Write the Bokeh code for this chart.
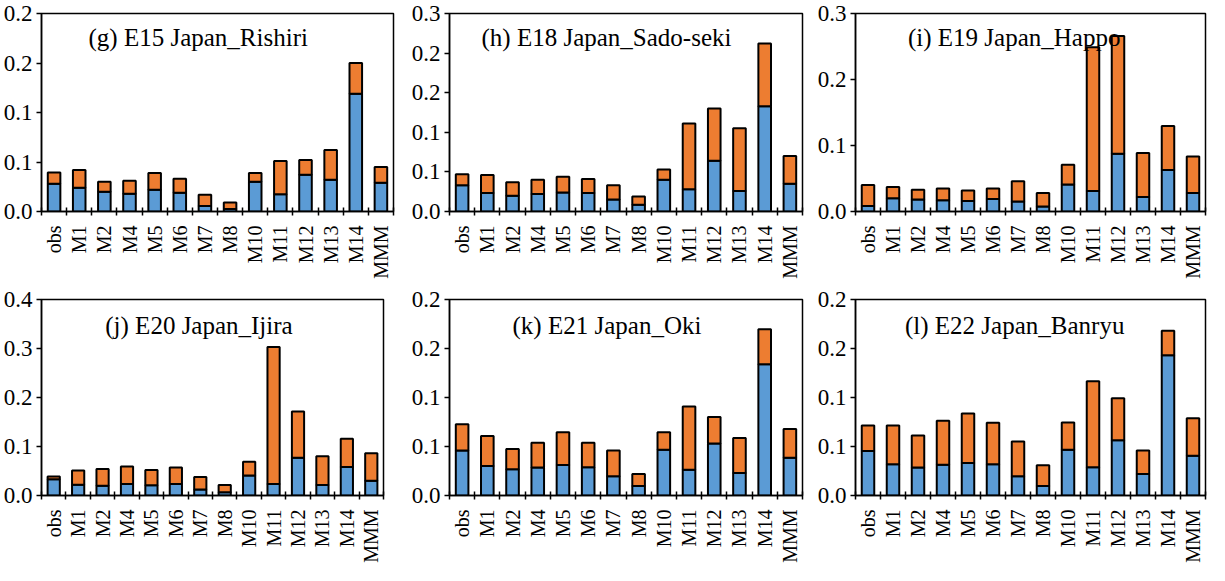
import numpy as np
from bokeh.plotting import figure
from bokeh.layouts import row, column
from bokeh.models import (Range1d, FixedTicker, CustomJSTickFormatter, Label,
                          ColumnDataSource)
from bokeh.embed import file_html
from bokeh.resources import INLINE

categories = ["obs", "M1", "M2", "M4", "M5", "M6", "M7", "M8",
              "M10", "M11", "M12", "M13", "M14", "MMM"]

titles = ["(g) E15 Japan_Rishiri", "(h) E18 Japan_Sado-seki", "(i) E19 Japan_Happo",
          "(j) E20 Japan_Ijira", "(k) E21 Japan_Oki", "(l) E22 Japan_Banryu"]

g_blue = [0.028, 0.024, 0.020, 0.018, 0.022, 0.019, 0.0056, 0.0026, 0.030, 0.0174, 0.037, 0.032, 0.119, 0.029]
g_orange = [0.0115, 0.0178, 0.010, 0.013, 0.017, 0.014, 0.0114, 0.0064, 0.009, 0.0336, 0.015, 0.030, 0.031, 0.016]

h_blue = [0.033, 0.0235, 0.020, 0.022, 0.024, 0.0235, 0.015, 0.0086, 0.040, 0.028, 0.064, 0.026, 0.133, 0.035]
h_orange = [0.014, 0.0225, 0.017, 0.018, 0.020, 0.0175, 0.018, 0.0104, 0.013, 0.083, 0.066, 0.079, 0.079, 0.035]

i_blue = [0.0084, 0.020, 0.018, 0.017, 0.016, 0.019, 0.015, 0.0074, 0.041, 0.031, 0.0875, 0.022, 0.063, 0.028]
i_orange = [0.0316, 0.017, 0.015, 0.018, 0.016, 0.016, 0.031, 0.0206, 0.030, 0.218, 0.1785, 0.0665, 0.0665, 0.0555]

j_blue = [0.033, 0.022, 0.020, 0.0236, 0.021, 0.0236, 0.0124, 0.0065, 0.041, 0.0236, 0.077, 0.0216, 0.058, 0.030]
j_orange = [0.006, 0.029, 0.034, 0.0354, 0.031, 0.0334, 0.0256, 0.0151, 0.028, 0.2794, 0.0945, 0.0584, 0.058, 0.056]

k_blue = [0.0458, 0.030, 0.0268, 0.0285, 0.0311, 0.0288, 0.0196, 0.0098, 0.0468, 0.0262, 0.053, 0.0229, 0.1339, 0.0386]
k_orange = [0.0269, 0.0306, 0.0207, 0.0252, 0.0334, 0.0249, 0.0264, 0.0122, 0.0177, 0.0645, 0.027, 0.0357, 0.0357, 0.0292]

l_blue = [0.0455, 0.0318, 0.0285, 0.0314, 0.0331, 0.0318, 0.0196, 0.0098, 0.0468, 0.0288, 0.0563, 0.0219, 0.143, 0.0406]
l_orange = [0.0259, 0.0396, 0.0327, 0.0449, 0.0507, 0.0425, 0.0354, 0.021, 0.0278, 0.0877, 0.0429, 0.0241, 0.025, 0.0383]

blues = [g_blue, h_blue, i_blue, j_blue, k_blue, l_blue]
oranges = [g_orange, h_orange, i_orange, j_orange, k_orange, l_orange]

y_max = [0.2, 0.25, 0.3, 0.4, 0.2, 0.2]
y_step = [0.05, 0.05, 0.1, 0.1, 0.05, 0.05]

# layout / style settings
widths = [403, 403, 403, 403, 403, 403]
heights = [286, 286, 286, 279, 279, 279]
b_left = [41, 46, 49, 41, 46, 49]
b_right = [10, 4, 4, 20, 4, 4]
b_top = [13, 13, 13, 13, 13, 13]
b_bottom = [75, 75, 75, 68, 68, 68]
title_dx = [1.87, 1.27, 2.1, 2.61, 2.5, 1.98]
title_fy = [0.88, 0.88, 0.88, 0.865, 0.865, 0.865]

BLUE = "#5B9BD5"
ORANGE = "#ED7D31"
FONT = "'Liberation Serif', 'Times New Roman', serif"

label_fmt = CustomJSTickFormatter(args=dict(labels=categories),
                                  code="return labels[Math.floor(tick)];")
y_fmt_code = "return (Math.round(tick*10 + 1e-9)/10).toFixed(1);"

figs = []
n = len(categories)
for idx in range(6):
    p = figure(width=widths[idx], height=heights[idx],
               x_range=Range1d(0, n), y_range=Range1d(0, y_max[idx]),
               output_backend="svg", toolbar_location=None,
               min_border_left=b_left[idx], min_border_right=b_right[idx],
               min_border_top=b_top[idx], min_border_bottom=b_bottom[idx])
    src = ColumnDataSource(dict(x=[k + 0.5 for k in range(n)],
                                cat=categories,
                                blue=blues[idx], orange=oranges[idx]))
    p.vbar_stack(["blue", "orange"], x="x", width=0.5, source=src,
                 fill_color=[BLUE, ORANGE], line_color="black", line_width=2)

    p.xgrid.visible = False
    p.ygrid.visible = False
    p.outline_line_color = "black"
    p.outline_line_width = 1.5
    p.background_fill_color = "white"
    p.border_fill_color = "white"

    xa = p.xaxis[0]
    xa.ticker = FixedTicker(ticks=[k + 0.5 for k in range(n)],
                            minor_ticks=list(range(n + 1)))
    xa.formatter = label_fmt
    xa.major_tick_line_color = None
    xa.major_tick_out = 0
    xa.major_tick_in = 0
    xa.minor_tick_line_color = "black"
    xa.minor_tick_line_width = 1.5
    xa.minor_tick_in = 4
    xa.minor_tick_out = 4
    xa.axis_line_width = 1.5
    xa.axis_line_color = "black"
    xa.major_label_orientation = np.pi / 2
    xa.major_label_standoff = 10
    xa.major_label_text_font = FONT
    xa.major_label_text_font_size = "20px"
    xa.major_label_text_color = "black"

    ya = p.yaxis[0]
    nt = int(round(y_max[idx] / y_step[idx]))
    ya.ticker = FixedTicker(ticks=[round(k * y_step[idx], 4) for k in range(nt + 1)])
    ya.formatter = CustomJSTickFormatter(code=y_fmt_code)
    ya.major_tick_in = 0
    ya.major_tick_out = 5
    ya.major_tick_line_width = 1.5
    ya.minor_tick_line_color = None
    ya.axis_line_width = 1.5
    ya.axis_line_color = "black"
    ya.major_label_standoff = 4
    ya.major_label_text_font = FONT
    ya.major_label_text_font_size = "23px"
    ya.major_label_text_color = "black"

    p.add_layout(Label(x=title_dx[idx], y=y_max[idx] * title_fy[idx],
                       text=titles[idx], text_font=FONT, text_font_size="25px",
                       text_baseline="middle", text_color="black"))
    figs.append(p)

layout = column(row(*figs[:3]), row(*figs[3:]))
open("out.html", "w").write(file_html(layout, INLINE))
